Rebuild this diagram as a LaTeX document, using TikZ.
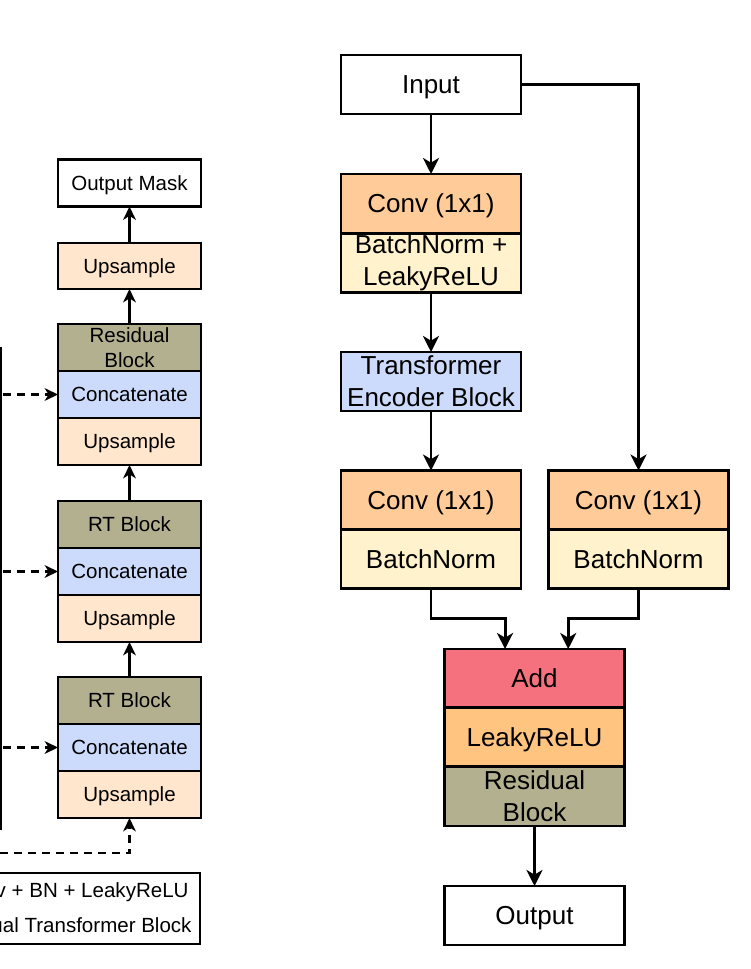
\documentclass[tikz,border=0pt]{standalone}
\usepackage{fontspec}
\setmainfont{Liberation Sans}
\usetikzlibrary{arrows.meta,positioning}
\tikzset{every picture/.style={line width=0.7pt}}
\definecolor{convorange}{RGB}{255,204,153}
\definecolor{bnyellow}{RGB}{255,242,204}
\definecolor{tfblue}{RGB}{204,218,252}
\definecolor{addred}{RGB}{245,113,126}
\definecolor{reluorange}{RGB}{255,196,128}
\definecolor{resolive}{RGB}{179,176,143}
\definecolor{uppeach}{RGB}{255,230,204}

\begin{document}
\begin{tikzpicture}[x=0.75pt,y=0.75pt,yscale=-1,xscale=1,
  bigbox/.style={draw, line width=2.2pt, minimum width=135pt, minimum height=44.25pt, inner sep=0pt, outer sep=0pt, align=center, font=\fontsize{19.5}{24}\selectfont},
  smallbox/.style={draw, line width=1.9pt, minimum width=107.25pt, minimum height=35.25pt, inner sep=0pt, outer sep=0pt, align=center, font=\fontsize{15.4}{18.8}\selectfont},
  bigone/.style={text height=14pt, text depth=0pt},
  smallone/.style={text height=11pt, text depth=0pt},
  bigarr/.style={-{Stealth[length=12pt,width=12pt,inset=3.5pt]}, line width=2.2pt},
  smallarr/.style={-{Stealth[length=10pt,width=9.5pt,inset=3pt]}, line width=1.8pt},
  dasharr/.style={-{Stealth[length=10pt,width=9.5pt,inset=3pt]}, line width=1.6pt, dash pattern=on 6pt off 4.5pt}]
\useasboundingbox (0,0) rectangle (750,969);

% Decoder column
\node[smallbox, smallone] (mask) at (129.5,183) {Output Mask};
\node[smallbox, smallone, fill=uppeach, minimum height=34.5pt] (upfin) at (129.5,266) {Upsample};
\node[smallbox, fill=resolive] (resA) at (129.5,347.5) {Residual\\Block};
\node[smallbox, smallone, fill=tfblue] (catA) at (129.5,394.5) {Concatenate};
\node[smallbox, smallone, fill=uppeach] (upA) at (129.5,441.5) {Upsample};
\node[smallbox, smallone, fill=resolive] (rtB) at (129.5,524.5) {RT Block};
\node[smallbox, smallone, fill=tfblue] (catB) at (129.5,571.5) {Concatenate};
\node[smallbox, smallone, fill=uppeach] (upB) at (129.5,618.5) {Upsample};
\node[smallbox, smallone, fill=resolive] (rtC) at (129.5,700.5) {RT Block};
\node[smallbox, smallone, fill=tfblue] (catC) at (129.5,747.5) {Concatenate};
\node[smallbox, smallone, fill=uppeach] (upC) at (129.5,794.5) {Upsample};

\draw[smallarr] (upfin) -- (mask);
\draw[smallarr] (resA) -- (upfin);
\draw[smallarr] (rtB) -- (upA);
\draw[smallarr] (rtC) -- (upB);

% Skip connections
\coordinate (skipT) at (1,347);
\coordinate (skipB) at (1,830);
\draw[line width=1.9pt] (skipT) -- (skipB);
\coordinate (sA) at (3,394.5);
\coordinate (sB) at (3,571.5);
\coordinate (sC) at (3,747.5);
\coordinate (sD) at (0,853);
\draw[dasharr] (sA) -- (catA);
\draw[dasharr] (sB) -- (catB);
\draw[dasharr] (sC) -- (catC);
\draw[dasharr] (sD) -| (upC);

% Legend
\node[draw, line width=1.9pt, minimum width=165pt, minimum height=53.25pt, inner sep=0pt, outer sep=0pt, anchor=north east] (legend) at (200,873) {};
\node[anchor=east, inner sep=0pt, font=\fontsize{15.4}{18.8}\selectfont] (legA) at (189,892) {v + BN + LeakyReLU};
\node[anchor=east, inner sep=0pt, font=\fontsize{15.4}{18.8}\selectfont] (legB) at (192,925) {ual Transformer Block};

% Residual transformer block
\node[bigbox, bigone] (input) at (431,84.5) {Input};
\node[bigbox, bigone, fill=convorange] (convA) at (431,203.5) {Conv (1x1)};
\node[bigbox, fill=bnyellow] (bnlA) at (431,263) {BatchNorm +\\LeakyReLU};
\node[bigbox, fill=tfblue] (trans) at (431,381.5) {Transformer\\Encoder Block};
\node[bigbox, bigone, fill=convorange] (convB) at (431,500) {Conv (1x1)};
\node[bigbox, bigone, fill=bnyellow] (bnB) at (431,559) {BatchNorm};
\node[bigbox, bigone, fill=convorange] (convC) at (638.5,500) {Conv (1x1)};
\node[bigbox, bigone, fill=bnyellow] (bnC) at (638.5,559) {BatchNorm};
\node[bigbox, bigone, fill=addred] (add) at (534.5,678.5) {Add};
\node[bigbox, bigone, fill=reluorange] (lrelu) at (534.5,737) {LeakyReLU};
\node[bigbox, fill=resolive] (resblk) at (534.5,796.5) {Residual\\Block};
\node[bigbox, bigone] (output) at (534.5,915.5) {Output};

\draw[bigarr] (input) -- (convA);
\draw[bigarr] (bnlA) -- (trans);
\draw[bigarr] (trans) -- (convB);
\draw[bigarr] (input.east) -| (convC);
\draw[bigarr] (bnB.south) -- ++(0,30) -| ([xshift=-22.1pt]add.north);
\draw[bigarr] (bnC.south) -- ++(0,30) -| ([xshift=25.3pt]add.north);
\draw[bigarr] (resblk) -- (output);

\end{tikzpicture}
\end{document}
